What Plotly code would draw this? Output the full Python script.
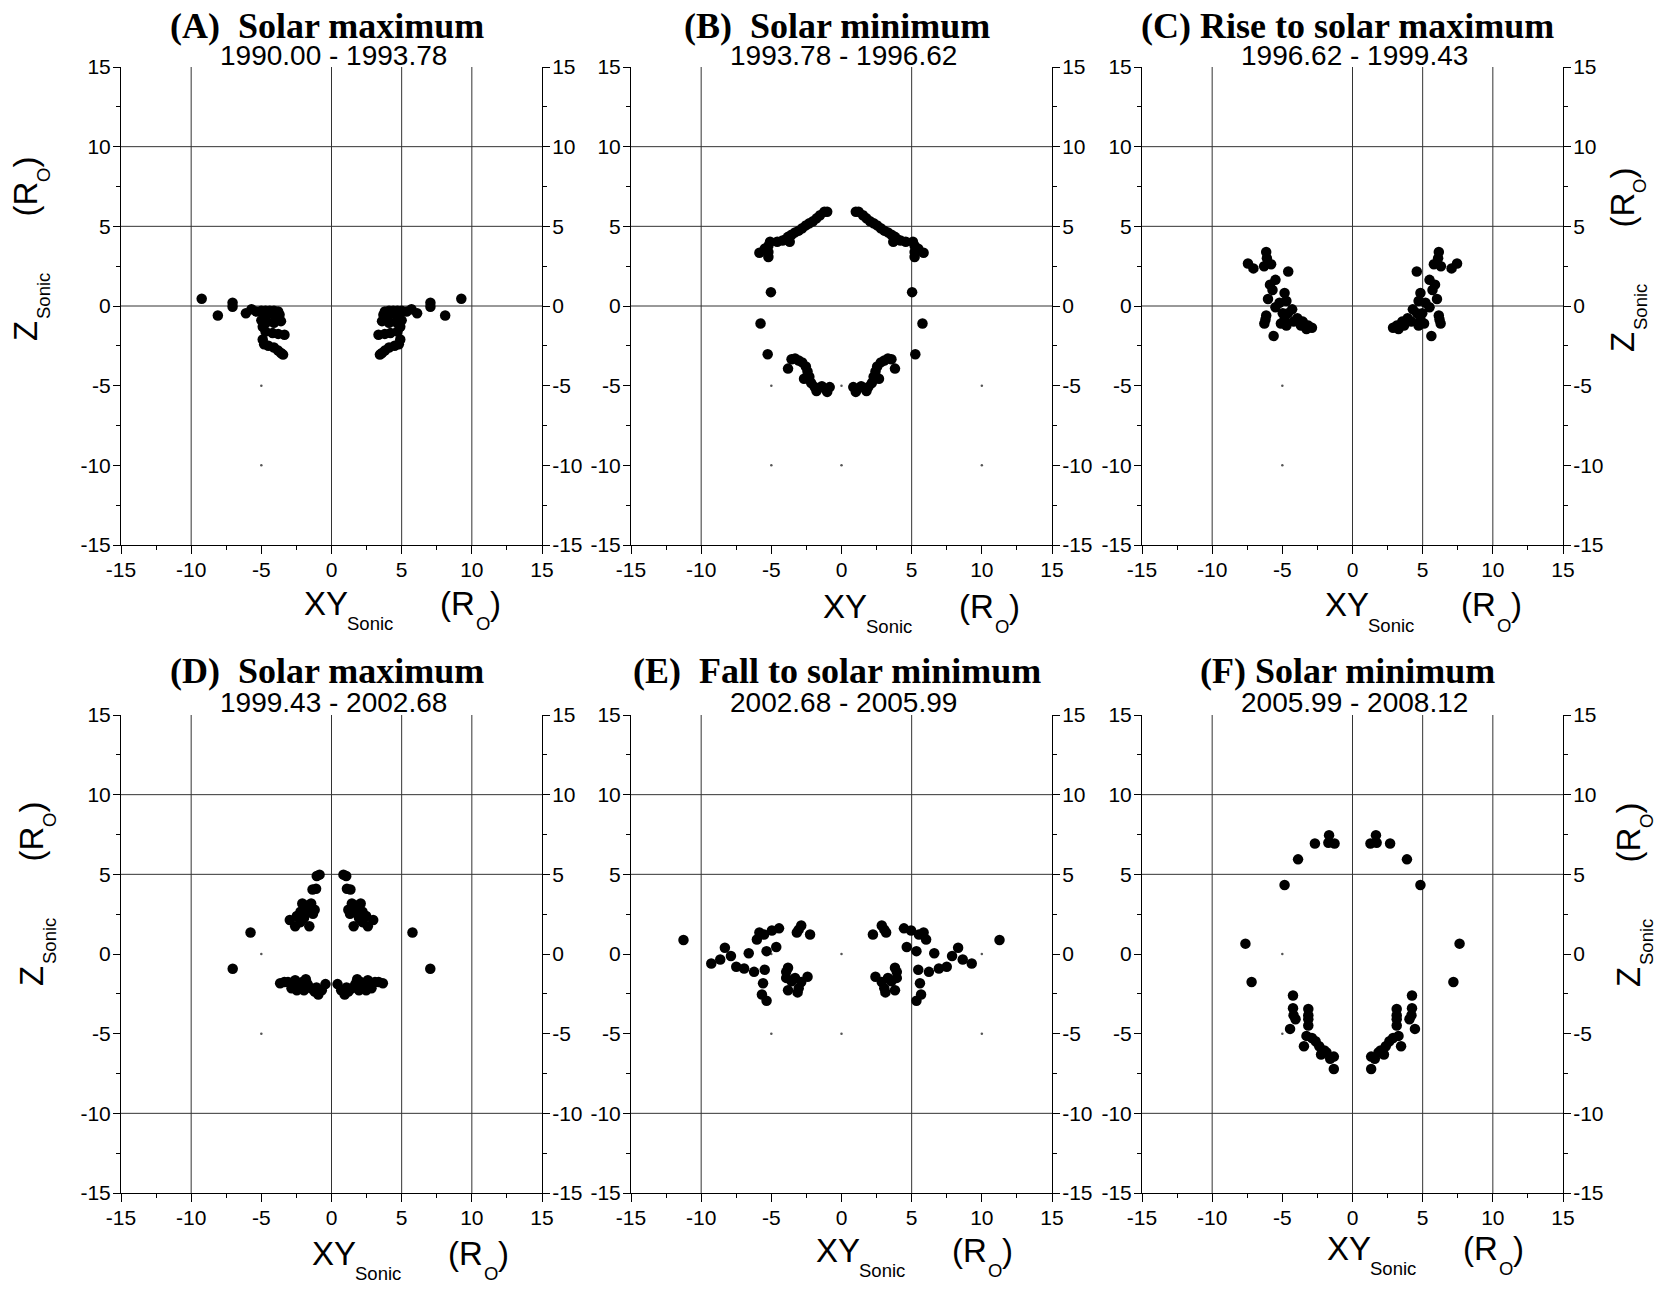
import plotly.graph_objects as go

W, H = 1663, 1289

# ---------------------------------------------------------------------------
# Sonic-point locations: |XY_sonic| (R_O) and Z_sonic (R_O) for each period.
# Each point is plotted on both sides of the meridional plane (+XY and -XY).
# ---------------------------------------------------------------------------
a_rho = [9.25, 8.10, 7.05, 7.05, 6.10, 5.70, 5.35, 5.00, 4.70, 4.40, 4.10, 3.80,
         3.70, 4.00, 3.60, 4.10, 4.60, 4.90, 4.70, 4.20, 3.80, 3.35, 4.90, 4.80,
         4.50, 4.10, 3.80, 3.45, 3.60, 4.30, 4.80, 5.00]
a_z = [0.45, -0.60, 0.20, -0.05, -0.45, -0.20, -0.35, -0.30, -0.30, -0.30, -0.30, -0.35,
       -0.55, -0.75, -0.95, -1.05, -1.00, -1.30, -1.60, -1.70, -1.75, -1.80, -2.10, -2.40,
       -2.50, -2.60, -2.80, -3.05, -2.95, -0.45, -0.60, -0.90]

b_rho = [1.02, 1.22, 1.53, 1.78, 2.03, 2.29, 2.54, 2.80, 3.05, 3.31, 3.56, 3.81,
         3.94, 3.69, 4.20, 4.58, 5.09, 5.21, 5.21, 5.21, 5.47, 5.85,
         5.03, 5.77, 5.26,
         3.81, 3.56, 3.31, 3.05, 2.80, 2.54, 2.42, 2.29, 2.67, 2.16, 1.91, 1.78,
         1.40, 1.14, 1.02, 0.84]
b_z = [5.91, 5.91, 5.70, 5.50, 5.32, 5.19, 5.06, 4.88, 4.73, 4.62, 4.47, 4.34,
       4.21, 4.03, 4.11, 4.03, 4.03, 3.78, 3.39, 3.08, 3.60, 3.34,
       0.87, -1.10, -3.03,
       -3.93, -3.34, -3.29, -3.42, -3.54, -3.80, -4.11, -4.44, -4.57, -4.83, -5.09, -5.34,
       -5.03, -5.21, -5.39, -5.09]

c_rho = [6.15, 6.10, 6.30, 5.80, 7.06, 7.45, 4.58, 5.49, 5.88, 5.70, 6.02, 4.84,
         4.71, 4.30, 5.49, 4.97, 3.93, 3.54, 3.15, 2.89, 3.28, 3.67, 4.19, 4.71,
         4.84, 5.10, 5.62, 6.15, 6.28, 6.20, 5.20, 4.60]
c_z = [3.39, 3.00, 2.50, 2.62, 2.36, 2.67, 2.16, 1.64, 1.34, 1.00, 0.44, 0.82,
       0.31, -0.21, -0.08, -0.46, -0.77, -0.98, -1.23, -1.36, -1.44, -1.23, -0.98, -1.23,
       -0.85, -1.10, -1.88, -0.59, -1.10, -0.85, 0.20, -0.45]

d_rho = [0.85, 1.05, 1.10, 1.35, 1.20, 1.45, 1.83, 2.08, 1.70, 2.21, 2.47, 2.21,
         1.58, 2.59, 2.97, 1.96, 1.32,
         5.77, 7.04,
         0.43, 0.69, 0.94, 1.20, 1.45, 1.70, 1.96, 2.08, 2.34, 2.59, 2.85, 3.10,
         3.36, 3.66, 1.83, 1.07, 2.47]
d_z = [4.98, 4.90, 4.10, 4.05, 2.78, 3.17, 3.04, 3.17, 2.65, 2.65, 2.39, 2.00,
       1.74, 1.74, 2.13, 2.26, 2.52,
       1.35, -0.93,
       -1.89, -2.28, -2.54, -2.36, -2.15, -1.89, -2.28, -1.76, -2.02, -1.64, -2.15, -1.76,
       -1.76, -1.84, -1.58, -2.10, -2.28]

e_rho = [11.26, 9.28, 8.64, 8.31, 7.88, 7.50, 6.94, 6.61, 6.23, 6.03, 5.85, 5.52,
         5.34, 5.47, 5.59, 5.67, 5.34, 4.96, 4.65, 4.45, 3.94, 3.81, 3.94, 3.56,
         3.31, 3.05, 3.13, 3.81, 2.87, 2.42, 2.87, 3.05, 3.18, 2.24]
e_z = [0.88, -0.60, -0.34, 0.39, -0.13, -0.80, -0.91, 0.05, -1.12, 0.91, 1.35, 1.22,
       0.18, -0.99, -1.84, -2.54, -2.93, 1.48, 0.44, 1.61, -1.12, -0.86, -1.50, -1.71,
       -1.50, -2.15, -2.41, -2.28, -1.76, -1.43, 1.79, 1.53, 1.35, 1.22]

f_rho = [1.67, 1.72, 1.28, 2.68, 3.88, 4.84, 7.63, 7.19,
         4.24, 4.24, 4.06, 4.45, 4.20, 3.15, 3.15, 3.15, 3.15, 3.28, 2.89, 2.63,
         2.37, 2.24, 3.46, 1.85, 1.59, 1.33, 1.33, 2.00]
f_z = [7.45, 6.98, 6.93, 6.93, 5.94, 4.33, 0.65, -1.76,
       -2.60, -3.40, -4.10, -4.70, -3.84, -3.45, -3.84, -4.10, -4.49, -5.14, -5.27, -5.48,
       -5.79, -6.31, -5.79, -6.18, -6.57, -6.44, -7.22, -6.05]

panel_titles = ["(A)\u00a0 Solar maximum", "(B)\u00a0 Solar minimum", "(C) Rise to solar maximum",
                "(D)\u00a0 Solar maximum", "(E)\u00a0 Fall to solar minimum", "(F) Solar minimum"]
panel_periods = ["1990.00 - 1993.78", "1993.78 - 1996.62", "1996.62 - 1999.43",
                 "1999.43 - 2002.68", "2002.68 - 2005.99", "2005.99 - 2008.12"]
panel_rho = [a_rho, b_rho, c_rho, d_rho, e_rho, f_rho]
panel_z = [a_z, b_z, c_z, d_z, e_z, f_z]

tick_vals = [-15, -10, -5, 0, 5, 10, 15]
tick_text = ["-15", "-10", "-5", "0", "5", "10", "15"]
minor_vals = [-12.5, -7.5, -2.5, 2.5, 7.5, 12.5]

# ---------------------------------------------------------------------------
# Page geometry (pixels)
# ---------------------------------------------------------------------------
PLOT_W, PLOT_H = 421, 478
COL_LEFT = [121, 631, 1142]
ROW_TOP = [67, 715]

# grid lines drawn in each panel (partial grid, as in the printed figure)
v_grid = [[-10, 0, 5, 10], [-10, 5], [-10, 0, 5, 10],
          [-10, 0, 5, 10], [-10, 5], [-10, 0, 5, 10]]
h_grid = [[10, 5, 0]] * 3 + [[10, 5, -10]] * 3
all_grid = [-10, -5, 0, 5, 10]

# x-title placement: offset of "XY" from plot left, cap centre below plot bottom
xt_dx = [182, 191, 182, 190, 184, 184]
xt_dy = [58, 61, 60, 60, 57, 55]

SANS = "Liberation Sans, Arial, sans-serif"
SERIF = "Liberation Serif, Times New Roman, serif"

fig = go.Figure()
annotations = []
shapes = []
layout_axes = {}


def px_x(p):
    return p / W


def px_y(p):
    return 1 - p / H


def add_text(text, x, y, size, xanchor="left", yanchor="middle", angle=0, family=SANS, bold=False):
    if bold:
        text = "<b>" + text + "</b>"
    annotations.append(dict(
        text=text, x=px_x(x), y=px_y(y), xref="paper", yref="paper",
        xanchor=xanchor, yanchor=yanchor, showarrow=False, textangle=angle,
        font=dict(family=family, size=size, color="black"), borderpad=0))


for i in range(6):
    r, c = divmod(i, 3)
    left = COL_LEFT[c]
    top = ROW_TOP[r]
    right = left + PLOT_W
    bottom = top + PLOT_H
    n = i + 1
    xa = "x" if n == 1 else f"x{n}"
    ya = "y" if n == 1 else f"y{n}"
    yr = f"y{n + 6}"

    xdom = [px_x(left), px_x(right)]
    ydom = [px_y(bottom), px_y(top)]

    common = dict(range=[-15, 15], tickmode="array", tickvals=tick_vals, ticktext=tick_text,
                  ticks="outside", tickwidth=1, tickcolor="black", showline=True,
                  linecolor="black", linewidth=1, showgrid=False, zeroline=False,
                  tickfont=dict(family=SANS, size=21, color="black"), fixedrange=True,
                  automargin=False,
                  minor=dict(ticks="outside", ticklen=4, tickmode="array", tickvals=minor_vals,
                             tickcolor="black", tickwidth=1, showgrid=False))

    layout_axes["xaxis" if n == 1 else f"xaxis{n}"] = dict(
        common, domain=xdom, anchor=ya, ticklen=8, ticklabelstandoff=-2)
    layout_axes["yaxis" if n == 1 else f"yaxis{n}"] = dict(
        common, domain=ydom, anchor=xa, side="left", ticklen=7, ticklabelstandoff=-2)
    layout_axes[f"yaxis{n + 6}"] = dict(
        common, domain=ydom, anchor=xa, side="right", overlaying=ya, ticklen=7,
        ticklabelstandoff=-2)

    # partial grid
    for gx in v_grid[i]:
        shapes.append(dict(type="line", xref=xa, yref=ya, x0=gx, x1=gx, y0=-15, y1=15,
                           line=dict(color="#333333", width=1), layer="below"))
    for gy in h_grid[i]:
        shapes.append(dict(type="line", xref=xa, yref=ya, x0=-15, x1=15, y0=gy, y1=gy,
                           line=dict(color="#333333", width=1), layer="below"))
    dots_x, dots_y = [], []
    for gx in all_grid:
        if gx in v_grid[i]:
            continue
        for gy in all_grid:
            if gy in h_grid[i]:
                continue
            dots_x.append(gx)
            dots_y.append(gy)
    fig.add_trace(go.Scatter(x=dots_x, y=dots_y, xaxis=xa, yaxis=ya, mode="markers",
                             marker=dict(size=2.5, color="#555555"), hoverinfo="skip",
                             showlegend=False))

    # sonic points, both hemispheres of the XY plane
    rho = panel_rho[i]
    zz = panel_z[i]
    fig.add_trace(go.Scatter(x=[-v for v in rho] + list(rho), y=list(zz) + list(zz),
                             xaxis=xa, yaxis=ya, mode="markers",
                             marker=dict(size=10.5, color="black", line=dict(width=0)),
                             showlegend=False, name=panel_titles[i]))
    # carrier trace for the right-hand axis
    fig.add_trace(go.Scatter(x=[None], y=[None], xaxis=xa, yaxis=yr, mode="markers",
                             showlegend=False, hoverinfo="skip"))

    # titles
    cx = (left + right) / 2
    add_text(panel_titles[i], cx - 5, top - 41 - (3 if r else 0), 36, xanchor="center",
             family=SERIF, bold=True)
    add_text(panel_periods[i], cx + 2, top - (11 if r == 0 else 13), 28, xanchor="center")

    # x-axis title: XY_Sonic   (R_O)
    x0 = left + xt_dx[i]
    yc = bottom + xt_dy[i]
    add_text("XY", x0, yc, 33)
    add_text("Sonic", x0 + 43, yc + 20, 18.5)
    add_text("(R", x0 + 136, yc, 33)
    add_text("O", x0 + 172, yc + 20, 18.5)
    add_text(")", x0 + 186, yc, 33)

    # y-axis title on the outer panels
    if c == 0 or c == 2:
        if c == 0:
            zx = left - (96 if r == 0 else 90)
        else:
            zx = right + (59 if r == 0 else 65)
        y0 = top + (275 if c == 0 else 286) - (3 if (r == 1 and c == 0) else 0)
        if r == 1 and c == 2:
            y0 = top + 273
        add_text("Z", zx, y0, 33, xanchor="center", yanchor="bottom", angle=-90)
        add_text("Sonic", zx + 18, y0 - 22, 18.5, xanchor="center", yanchor="bottom", angle=-90)
        add_text("(R", zx, y0 - 124, 33, xanchor="center", yanchor="bottom", angle=-90)
        add_text("O", zx + 18, y0 - 159, 18.5, xanchor="center", yanchor="bottom", angle=-90)
        add_text(")", zx, y0 - 173, 33, xanchor="center", yanchor="bottom", angle=-90)

fig.update_layout(
    width=W, height=H, autosize=False,
    margin=dict(l=0, r=0, t=0, b=0, pad=0),
    paper_bgcolor="white", plot_bgcolor="white",
    showlegend=False,
    annotations=annotations, shapes=shapes,
    **layout_axes)

fig.write_html("out.html", include_plotlyjs=True,
               config={"displayModeBar": False, "responsive": False},
               post_script="document.body.style.margin='0px';document.body.style.overflow='hidden';")
